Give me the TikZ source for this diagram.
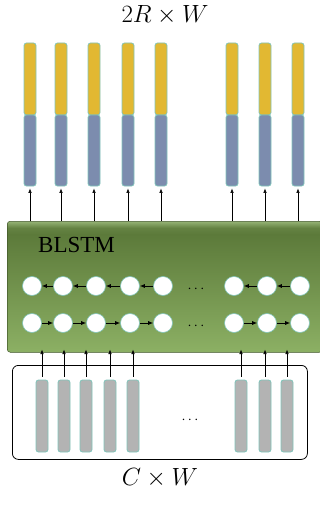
\documentclass[tikz,border=0pt]{standalone}
\usepackage{fontspec}
\newfontfamily\timesfont{Liberation Serif}
\usetikzlibrary{arrows.meta}
\definecolor{baryellow}{RGB}{226,184,50}
\definecolor{barblue}{RGB}{124,140,174}
\definecolor{barrim}{RGB}{128,196,186}
\definecolor{bargray}{RGB}{179,179,179}
\definecolor{gtop}{RGB}{92,122,58}
\definecolor{gbot}{RGB}{140,176,100}
\definecolor{glight}{RGB}{150,180,118}
\pgfdeclareverticalshading{blstmshade}{100bp}{color(0bp)=(gbot); color(25bp)=(gbot); color(70bp)=(gtop); color(72.5bp)=(gtop!85!glight); color(75bp)=(glight); color(100bp)=(glight)}
\tikzset{
  ybar/.style={draw=barrim, line width=0.8pt, fill=baryellow, minimum width=12pt, minimum height=72pt, inner sep=0pt, rounded corners=2.5pt},
  bbar/.style={draw=barrim, line width=0.8pt, fill=barblue, minimum width=12pt, minimum height=71pt, inner sep=0pt, rounded corners=2.5pt},
  gbar/.style={draw=barrim, line width=0.8pt, fill=bargray, minimum width=12pt, minimum height=72pt, inner sep=0pt, rounded corners=2.5pt},
  cell/.style={circle, draw=barrim, line width=0.6pt, fill=white, minimum size=19pt, inner sep=0pt},
  arr/.style={-{Latex[length=4.5pt,width=3.5pt]}, line width=0.6pt},
  carr/.style={-{Latex[length=5pt,width=4pt]}, line width=0.8pt},
  dots/.style={font=\fontsize{14}{16}\selectfont, inner sep=0pt}
}
\begin{document}
\begin{tikzpicture}[x=1pt,y=-1pt]
\useasboundingbox (0,0) rectangle (320,505);
% title
\node[font=\fontsize{25}{30}\selectfont, inner sep=0pt] (title) at (165,15) {$2R\times W$};
% BLSTM box
\node[draw=gtop!70!black, line width=0.5pt, rounded corners=3pt, shading=blstmshade, minimum width=315pt, minimum height=131pt, anchor=north west, inner sep=0pt] (blstm) at (7,221) {};
\node[font=\timesfont\fontsize{23}{26}\selectfont, anchor=west, inner sep=0pt] (lbl) at (38,245) {BLSTM};
% top bars, circles, bottom bars
\foreach \i/\x in {1/30, 2/61, 3/94, 4/128, 5/161, 6/232, 7/265, 8/298} {
  \node[ybar] (ty\i) at (\x,79) {};
  \node[bbar] (tb\i) at (\x,150.5) {};
  \draw[arr] (tb\i.south |- blstm.north) -- ([yshift=-2pt]tb\i.south);
  \node[cell] (b\i) at (\x+2,286) {};
  \node[cell] (f\i) at (\x+2,323) {};
}
% bottom box
\node[draw, line width=0.8pt, rounded corners=6pt, minimum width=295pt, minimum height=94pt, anchor=north west, inner sep=0pt] (inbox) at (12,365) {};
\foreach \i/\gx in {1/42, 2/64, 3/86, 4/110, 5/133, 6/241, 7/265, 8/287} {
  \node[gbar] (g\i) at (\gx,416) {};
  \draw[arr] ([yshift=3pt]g\i.north) -- ([yshift=3pt]g\i.north |- blstm.south);
}
% recurrent connections
\foreach \a/\b in {1/2, 2/3, 3/4, 4/5, 6/7, 7/8} {
  \draw[carr] (b\b) -- (b\a);
  \draw[carr] (f\a) -- (f\b);
}
\node[dots] (d1) at (196,289) {$\cdots$};
\node[dots] (d2) at (196,326) {$\cdots$};
\node[dots] (d3) at (190,420) {$\cdots$};
\node[font=\fontsize{26}{30}\selectfont] (foot) at (160,478) {$C\times W$};
\end{tikzpicture}
\end{document}
